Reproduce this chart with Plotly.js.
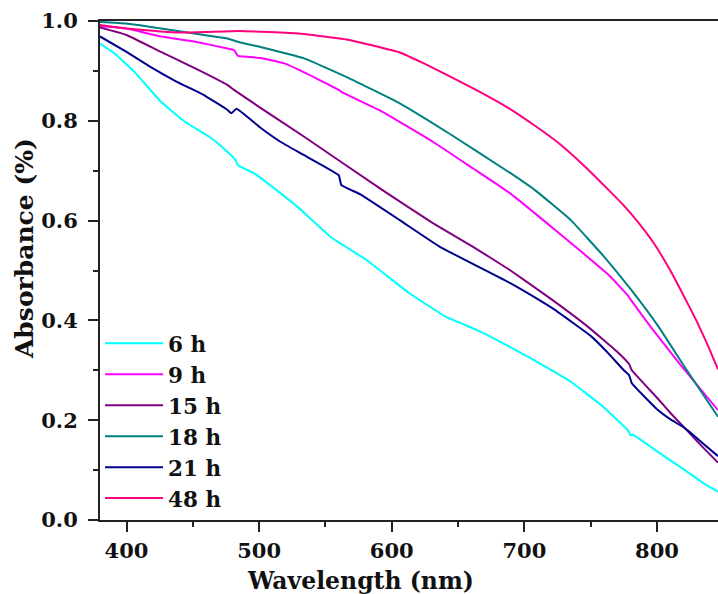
<!DOCTYPE html>
<html>
<head>
<meta charset="utf-8">
<script src="https://cdn.plot.ly/plotly-3.0.1.min.js"></script>
<style>html,body{margin:0;padding:0;background:#fff;}#chart{width:718px;height:594px;}</style>
</head>
<body>
<div id="chart"></div>
<script>
// Series names
var seriesNames = ["6 h", "9 h", "15 h", "18 h", "21 h", "48 h"];
var seriesColors = ["#00FFFF", "#FF00FF", "#800080", "#008080", "#000090", "#FF0080"];

// 6 h
var wl6 = [380, 391, 406, 426, 444, 464, 476, 482, 484, 496, 516, 530, 555, 581, 613, 641, 664, 689, 707, 716, 735, 758, 778, 780, 782, 802, 821, 836, 846];
var abs6 = [0.955, 0.935, 0.898, 0.838, 0.798, 0.765, 0.738, 0.722, 0.711, 0.695, 0.655, 0.625, 0.565, 0.521, 0.455, 0.407, 0.381, 0.347, 0.321, 0.307, 0.277, 0.230, 0.180, 0.170, 0.171, 0.134, 0.100, 0.072, 0.057];
// 9 h
var wl9 = [380, 400, 426, 451, 476, 481, 484, 501, 519, 534, 560, 562, 593, 631, 661, 689, 726, 764, 778, 780, 797, 818, 846];
var abs9 = [0.990, 0.985, 0.969, 0.959, 0.945, 0.942, 0.930, 0.926, 0.915, 0.897, 0.862, 0.858, 0.818, 0.758, 0.705, 0.655, 0.575, 0.490, 0.450, 0.442, 0.381, 0.310, 0.220];
// 15 h
var wl15 = [380, 400, 426, 451, 476, 481, 501, 534, 593, 631, 661, 689, 720, 748, 770, 779, 781, 800, 810, 821, 833, 846];
var abs15 = [0.987, 0.972, 0.938, 0.906, 0.872, 0.862, 0.826, 0.768, 0.661, 0.595, 0.548, 0.501, 0.443, 0.387, 0.337, 0.312, 0.300, 0.245, 0.215, 0.184, 0.150, 0.115];
// 18 h
var wl18 = [380, 400, 426, 451, 476, 483, 501, 534, 568, 606, 643, 689, 708, 735, 760, 780, 801, 822, 846];
var abs18 = [0.998, 0.995, 0.985, 0.975, 0.965, 0.959, 0.948, 0.925, 0.885, 0.835, 0.775, 0.696, 0.661, 0.601, 0.528, 0.463, 0.388, 0.302, 0.207];
// 21 h
var wl21 = [380, 400, 418, 438, 458, 476, 479, 483, 501, 516, 534, 560, 562, 576, 606, 636, 689, 711, 723, 750, 763, 775, 779, 781, 800, 810, 821, 834, 846];
var abs21 = [0.969, 0.938, 0.908, 0.878, 0.852, 0.822, 0.815, 0.824, 0.786, 0.758, 0.731, 0.691, 0.671, 0.653, 0.601, 0.548, 0.475, 0.441, 0.421, 0.369, 0.335, 0.300, 0.290, 0.274, 0.222, 0.202, 0.184, 0.155, 0.128];
// 48 h
var wl48 = [380, 400, 426, 440, 460, 485, 530, 568, 606, 625, 643, 665, 689, 708, 726, 745, 764, 775, 786, 797, 809, 820, 830, 838, 846];
var abs48 = [0.992, 0.985, 0.979, 0.977, 0.978, 0.980, 0.975, 0.962, 0.937, 0.914, 0.890, 0.860, 0.824, 0.790, 0.755, 0.710, 0.660, 0.630, 0.596, 0.557, 0.505, 0.450, 0.398, 0.352, 0.302];

// Axis tick values/labels
var xTickVals = [400, 500, 600, 700, 800];
var yTickVals = [0.0, 0.2, 0.4, 0.6, 0.8, 1.0];
var yTickText = ["0.0", "0.2", "0.4", "0.6", "0.8", "1.0"];

var xTitle = "Wavelength (nm)";
var yTitle = "Absorbance (%)";

var xs = [wl6, wl9, wl15, wl18, wl21, wl48];
var ys = [abs6, abs9, abs15, abs18, abs21, abs48];

var FONT = "DejaVu Serif, Georgia, serif";

var traces = seriesNames.map(function (name, i) {
  return {
    type: "scatter",
    mode: "lines",
    name: name,
    x: xs[i],
    y: ys[i],
    line: { color: seriesColors[i], width: 2, shape: "spline", smoothing: 0.3 }
  };
});

var layout = {
  width: 718,
  height: 594,
  margin: { l: 100, r: 0, t: 21, b: 74 },
  paper_bgcolor: "#fff",
  plot_bgcolor: "#fff",
  font: { family: FONT, size: 21, color: "#111", weight: "bold" },
  showlegend: true,
  legend: {
    x: 0, y: 0.395, xanchor: "left", yanchor: "top",
    bgcolor: "rgba(0,0,0,0)",
    font: { family: FONT, size: 21.5, color: "#111", weight: "bold" },
    tracegroupgap: 0,
    itemwidth: 58
  },
  xaxis: {
    range: [380, 846],
    tickvals: xTickVals,
    ticks: "outside", ticklen: 10, tickwidth: 2, tickcolor: "#222",
    minor: { dtick: 50, tick0: 350, ticks: "outside", ticklen: 5, tickwidth: 2, tickcolor: "#222" },
    showline: true, linecolor: "#222", linewidth: 2, mirror: true,
    showgrid: false, zeroline: false,
    tickfont: { family: FONT, size: 21, color: "#111", weight: "bold" },
    ticklabelstandoff: 1
  },
  yaxis: {
    range: [0, 1],
    tickvals: yTickVals,
    ticktext: yTickText,
    ticks: "outside", ticklen: 10, tickwidth: 2, tickcolor: "#222",
    minor: { dtick: 0.1, tick0: 0, ticks: "outside", ticklen: 5, tickwidth: 2, tickcolor: "#222" },
    showline: true, linecolor: "#222", linewidth: 2, mirror: false,
    showgrid: false, zeroline: false,
    tickfont: { family: FONT, size: 21, color: "#111", weight: "bold" },
    ticklabelstandoff: 6
  },
  annotations: [
    { text: xTitle, xref: "paper", yref: "paper", x: 0.422, y: -0.122, xanchor: "center", yanchor: "middle",
      showarrow: false, font: { family: FONT, size: 23.5, color: "#111", weight: "bold" } },
    { text: yTitle, xref: "paper", yref: "paper", x: -0.123, y: 0.545, xanchor: "center", yanchor: "middle",
      textangle: -90, showarrow: false, font: { family: FONT, size: 25, color: "#111", weight: "bold" } }
  ]
};

Plotly.newPlot("chart", traces, layout, { displayModeBar: false, staticPlot: true });
</script>
</body>
</html>
